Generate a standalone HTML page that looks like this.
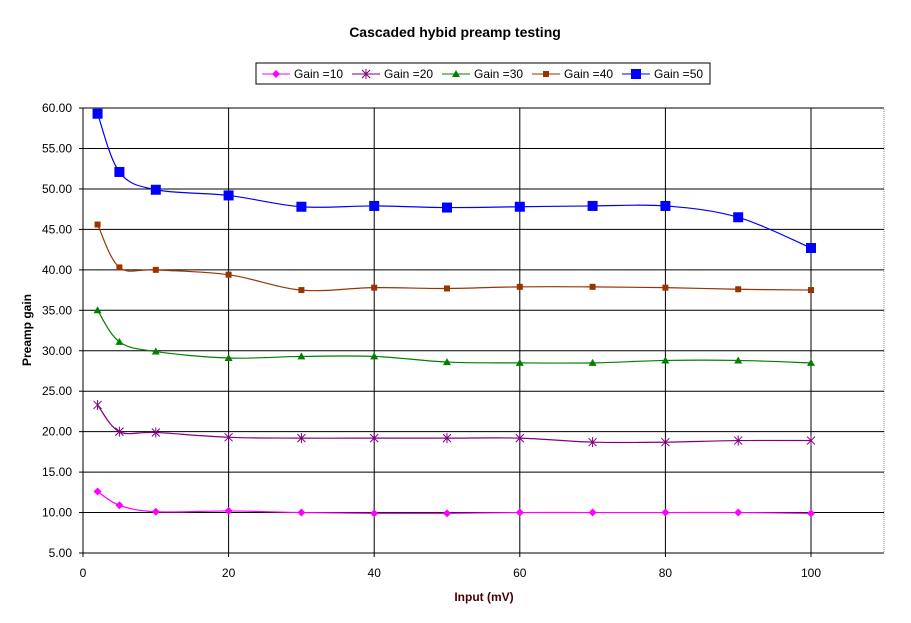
<!DOCTYPE html>
<html><head><meta charset="utf-8"><style>
body{margin:0;background:#fff;}
svg{display:block;font-family:"Liberation Sans",Arial,sans-serif;}
</style></head><body>
<svg id="s" width="911" height="623" xmlns="http://www.w3.org/2000/svg">
<rect width="911" height="623" fill="#fff"/>
<text x="455" y="37" text-anchor="middle" font-size="14" font-weight="bold">Cascaded hybid preamp testing</text>
<text x="484" y="601" text-anchor="middle" font-size="12" font-weight="bold" fill="#4a0000">Input (mV)</text>
<text transform="translate(31,330) rotate(-90)" text-anchor="middle" font-size="12" font-weight="bold">Preamp gain</text>
<g id="g"></g>
</svg>
<script>
const g=document.getElementById('g');let h='';
const X=v=>83+v*7.28, Y=v=>553-(v-5)*8.09;
h+='<rect x="83" y="108" width="801" height="445" fill="none" stroke="#888" stroke-dasharray="1,1"/>';
for(let v=10;v<=60;v+=5){h+=`<line x1="83" x2="884" y1="${Y(v)}" y2="${Y(v)}" stroke="#000"/>`;}
for(let v=20;v<=100;v+=20){h+=`<line x1="${X(v)}" x2="${X(v)}" y1="108" y2="553" stroke="#000"/>`;}
h+='<line x1="83" y1="108" x2="83" y2="553" stroke="#000"/><line x1="83" y1="553" x2="884" y2="553" stroke="#000"/>';
for(let v=5;v<=60;v+=5){h+=`<line x1="79" x2="83" y1="${Y(v)}" y2="${Y(v)}" stroke="#000"/><text x="72" y="${Y(v)+4}" text-anchor="end" font-size="12">${v.toFixed(2)}</text>`;}
for(let v=0;v<=100;v+=20){h+=`<line x1="${X(v)}" x2="${X(v)}" y1="553" y2="557" stroke="#000"/><text x="${X(v)}" y="577" text-anchor="middle" font-size="12">${v}</text>`;}
const xs=[2,5,10,20,30,40,50,60,70,80,90,100];
const S=[
['#ff00ff','d',[12.6,10.9,10.1,10.2,10.0,9.9,9.9,10.0,10.0,10.0,10.0,9.9]],
['#800080','x',[23.3,20.0,19.9,19.3,19.2,19.2,19.2,19.2,18.7,18.7,18.9,18.9]],
['#008000','t',[35.0,31.1,29.9,29.1,29.3,29.3,28.6,28.5,28.5,28.8,28.8,28.5]],
['#993300','s',[45.6,40.3,40.0,39.4,37.5,37.8,37.7,37.9,37.9,37.8,37.6,37.5]],
['#0000ff','S',[59.3,52.1,49.9,49.2,47.8,47.9,47.7,47.8,47.9,47.9,46.5,42.7]]];
function mk(t,x,y,c){
 if(t=='d')return `<polygon points="${x},${y-4} ${x+4},${y} ${x},${y+4} ${x-4},${y}" fill="${c}"/>`;
 if(t=='x')return `<path d="M${x-4} ${y-4}L${x+4} ${y+4}M${x+4} ${y-4}L${x-4} ${y+4}M${x} ${y-5}L${x} ${y+5}" stroke="${c}"/>`;
 if(t=='t')return `<polygon points="${x},${y-4} ${x+4},${y+3} ${x-4},${y+3}" fill="${c}"/>`;
 if(t=='s')return `<rect x="${x-3}" y="${y-3}" width="6" height="6" fill="${c}"/>`;
 return `<rect x="${x-5}" y="${y-5}" width="10" height="10" fill="${c}"/>`;
}
S.forEach(([c,t,d])=>{
 const p=xs.map((v,i)=>[X(v),Y(d[i])]);
 let path=`M${p[0][0]} ${p[0][1]}`;
 for(let i=0;i<p.length-1;i++){const a=p[i-1]||p[i],b=p[i],e=p[i+1],f=p[i+2]||e;
  path+=`C${b[0]+(e[0]-a[0])/6} ${b[1]+(e[1]-a[1])/6} ${e[0]-(f[0]-b[0])/6} ${e[1]-(f[1]-b[1])/6} ${e[0]} ${e[1]}`;}
 h+=`<path d="${path}" fill="none" stroke="${c}" stroke-width="1.2"/>`;
 p.forEach(q=>h+=mk(t,q[0],q[1],c));
});
h+='<rect x="256" y="63" width="454" height="21" fill="#fff" stroke="#000"/>';
const lx=[262,352,442,532,622], lab=[10,20,30,40,50];
S.forEach(([c,t],i)=>{const x=lx[i];h+=`<line x1="${x}" x2="${x+28}" y1="74" y2="74" stroke="${c}"/>`+mk(t,x+14,74,c)+`<text x="${x+32}" y="78" font-size="12">Gain =${lab[i]}</text>`;});
g.innerHTML=h;
</script>
</body></html>
